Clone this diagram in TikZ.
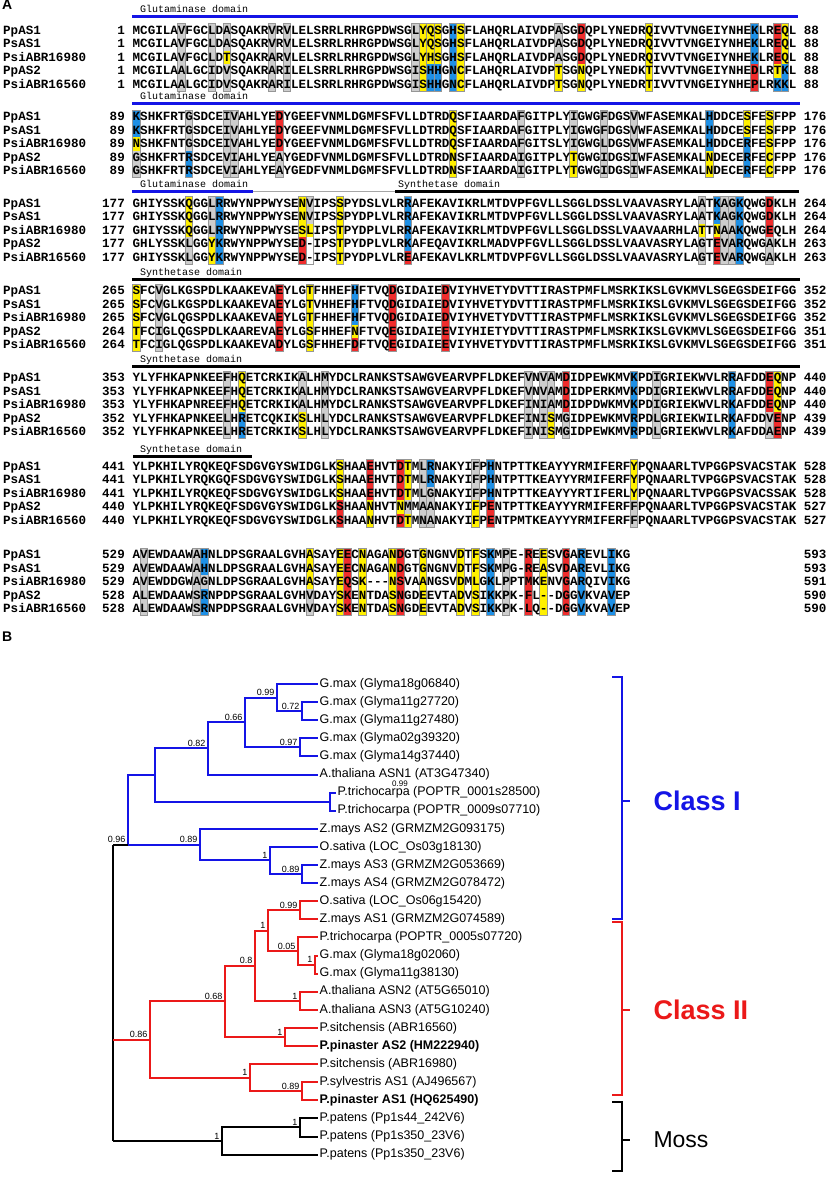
\documentclass[tikz,border=0pt]{standalone}
\usepackage{fontspec}
\setmainfont{Liberation Sans}
\setsansfont{Liberation Sans}
\setmonofont{Liberation Mono}
\definecolor{hY}{RGB}{255,240,0}
\definecolor{hB}{RGB}{30,144,230}
\definecolor{hR}{RGB}{240,45,45}
\definecolor{hG}{RGB}{205,205,205}
\definecolor{hW}{RGB}{255,255,255}
\definecolor{frameg}{RGB}{150,150,150}
\definecolor{domblue}{RGB}{20,20,230}
\definecolor{tblue}{RGB}{20,20,230}
\definecolor{tred}{RGB}{235,25,25}
\newcommand{\seqfont}{\ttfamily\bfseries\fontsize{12.57}{13}\selectfont}
\newcommand{\hcol}[3]{%
  \foreach \cc [count=\rr from 0] in {#3}{
    \fill[h\cc] ({132.5+(#2-1)*7.54},{#1-6.75+\rr*13.5}) rectangle ++(7.54,13.5);
  }
  \draw[frameg,line width=0.8] ({132.5+(#2-1)*7.54},{#1-6.75}) rectangle ++(7.54,67.5);
}
\newcommand{\arow}[6]{%
  \node[nm] (#1n) at (3,{#2+3.6}) {#3};
  \node[num] (#1s) at (125,{#2+3.6}) {#4};
  \node[sq] (#1q) at (132.5,{#2+3.6}) {#5};
  \node[sq] (#1e) at (803.6,{#2+3.6}) {#6};
}
\begin{document}
\begin{tikzpicture}[x=1pt,y=-1pt,
  sq/.style={anchor=base west, inner sep=0, font=\seqfont},
  num/.style={anchor=base east, inner sep=0, font=\seqfont},
  nm/.style={anchor=base west, inner sep=0, font=\seqfont},
  dom/.style={anchor=base west, inner sep=0, font=\ttfamily\fontsize{10}{10}\selectfont},
  panel/.style={anchor=north west, inner sep=0, font=\bfseries\fontsize{14}{14}\selectfont},
  leaf/.style={anchor=west, inner sep=1.5pt, font=\fontsize{12.5}{13}\selectfont},
  bleaf/.style={anchor=west, inner sep=1.5pt, font=\bfseries\fontsize{12.5}{13}\selectfont},
  supp/.style={anchor=south east, inner sep=0.5pt, font=\fontsize{9}{9}\selectfont},
  bl/.style={tblue, line width=2pt},
  rd/.style={tred, line width=2pt},
  bk/.style={black, line width=2pt},
  brk/.style={line width=2.5pt},
  domline/.style={line width=3pt}]
\useasboundingbox (0,0) rectangle (827,1180);
\fill[white] (0,0) rectangle (827,1180);
\node[panel] (pA) at (2,0) {A};
% ---------------- block 1
\hcol{30.5}{7}{G,G,G,G,G}
\hcol{30.5}{11}{G,G,G,G,G}
\hcol{30.5}{13}{G,G,Y,G,G}
\hcol{30.5}{19}{G,G,G,G,G}
\hcol{30.5}{21}{G,G,G,G,G}
\hcol{30.5}{38}{G,G,G,G,G}
\hcol{30.5}{39}{Y,Y,Y,Y,Y}
\hcol{30.5}{40}{Y,Y,Y,B,B}
\hcol{30.5}{41}{Y,Y,Y,B,B}
\hcol{30.5}{43}{B,B,B,B,B}
\hcol{30.5}{44}{Y,Y,Y,Y,Y}
\hcol{30.5}{57}{G,G,G,Y,Y}
\hcol{30.5}{60}{R,R,R,Y,Y}
\hcol{30.5}{69}{Y,Y,Y,Y,Y}
\hcol{30.5}{83}{B,B,B,R,R}
\hcol{30.5}{86}{R,R,R,Y,B}
\hcol{30.5}{87}{Y,Y,Y,B,B}
\draw[domblue,domline] (132,17) -- (798,17);
\node[dom] (d1) at (140,13) {Glutaminase domain};
\arow{a1}{30.5}{PpAS1}{1}{MCGILAVFGCLDASQAKRVRVLELSRRLRHRGPDWSGLYQSGHSFLAHQRLAIVDPASGDQPLYNEDRQIVVTVNGEIYNHEKLREQL}{88}
\arow{a2}{44}{PsAS1}{1}{MCGILAVFGCLDASQAKRVRVLELSRRLRHRGPDWSGLYQSGHSFLAHQRLAIVDPASGDQPLYNEDRQIVVTVNGEIYNHEKLREQL}{88}
\arow{a3}{57.5}{PsiABR16980}{1}{MCGILAVFGCLDTSQAKRARVLELSRRLRHRGPDWSGLYHSGHSFLAHQRLAIVDPASGDQPLYNEDRQIVVTVNGEIYNHEKLREQL}{88}
\arow{a4}{71}{PpAS2}{1}{MCGILAALGCIDVSQAKRARILELSRRLRHRGPDWSGISHHGNCFLAHQRLAIVDPTSGNQPLYNEDKTIVVTVNGEIYNHEDLRTKL}{88}
\arow{a5}{84.5}{PsiABR16560}{1}{MCGILAALGCIDVSQAKRARILELSRRLRHRGPDWSGISHHGNCFLAHQRLAIVDPTSGNQPLYNEDRTIVVTVNGEIYNHEPLRKKL}{88}
% ---------------- block 2
\hcol{117}{1}{B,B,Y,G,G}
\hcol{117}{8}{G,G,G,B,B}
\hcol{117}{13}{G,G,G,G,G}
\hcol{117}{14}{G,G,G,G,G}
\hcol{117}{20}{R,R,R,G,G}
\hcol{117}{43}{Y,Y,Y,Y,Y}
\hcol{117}{52}{G,G,G,G,G}
\hcol{117}{59}{G,G,G,Y,Y}
\hcol{117}{63}{G,G,G,G,G}
\hcol{117}{67}{G,G,G,G,G}
\hcol{117}{77}{B,B,B,Y,Y}
\hcol{117}{82}{Y,Y,B,B,B}
\hcol{117}{85}{Y,Y,Y,Y,Y}
\draw[domblue,domline] (132,103.5) -- (800,103.5);
\node[dom] (d2) at (140,100) {Glutaminase domain};
\arow{b1}{117}{PpAS1}{89}{KSHKFRTGSDCEIVAHLYEDYGEEFVNMLDGMFSFVLLDTRDQSFIAARDAFGITPLYIGWGFDGSVWFASEMKALHDDCESFESFPP}{176}
\arow{b2}{130.5}{PsAS1}{89}{KSHKFRTGSDCEIVAHLYEDYGEEFVNMLDGMFSFVLLDTRDQSFIAARDAFGITPLYIGWGFDGSVWFASEMKALHDDCESFESFPP}{176}
\arow{b3}{144}{PsiABR16980}{89}{NSHKFNTGSDCEIVAHLYEDYGEEFVNMLDGMFSFVLLDTRDQSFIAARDAFGITSLYIGWGLDGSVWFASEMKALHDDCERFESFPP}{176}
\arow{b4}{157.5}{PpAS2}{89}{GSHKFRTRSDCEVIAHLYEAYGEDFVNMLDGMFSFVLLDTRDNSFIAARDAIGITPLYTGWGIDGSIWFASEMKALNDECERFECFPP}{176}
\arow{b5}{171}{PsiABR16560}{89}{GSHKFRTRSDCEVIAHLYEAYGEDFVNMLDGMFSFVLLDTRDNSFIAARDAIGITPLYTGWGIDGSIWFASEMKALNDECERFECFPP}{176}
% ---------------- block 3
\hcol{203.5}{8}{Y,Y,Y,G,G}
\hcol{203.5}{11}{G,G,G,Y,Y}
\hcol{203.5}{12}{B,B,B,B,B}
\hcol{203.5}{23}{Y,Y,Y,R,R}
\hcol{203.5}{24}{G,G,Y,W,W}
\hcol{203.5}{28}{Y,Y,Y,Y,Y}
\hcol{203.5}{37}{B,B,B,B,R}
\hcol{203.5}{76}{G,G,Y,G,G}
\hcol{203.5}{78}{B,B,Y,R,R}
\hcol{203.5}{79}{G,G,G,G,G}
\hcol{203.5}{80}{G,G,G,G,G}
\hcol{203.5}{81}{B,B,B,B,B}
\hcol{203.5}{85}{R,R,R,G,G}
\draw[domblue,domline] (132,191) -- (253,191);
\draw[gray!70,line width=0.8] (253,191) -- (395,191);
\draw[black,domline] (395,191) -- (799,191);
\node[dom] (d3a) at (140,187) {Glutaminase domain};
\node[dom] (d3b) at (398,187) {Synthetase domain};
\arow{c1}{203.5}{PpAS1}{177}{GHIYSSKQGGLRRWYNPPWYSENVIPSSPYDSLVLRRAFEKAVIKRLMTDVPFGVLLSGGLDSSLVAAVASRYLAATKAGKQWGDKLH}{264}
\arow{c2}{217}{PsAS1}{177}{GHIYSSKQGGLRRWYNPPWYSENVIPSSPYDPLVLRRAFEKAVIKRLMTDVPFGVLLSGGLDSSLVAAVASRYLAATKAGKQWGDKLH}{264}
\arow{c3}{230.5}{PsiABR16980}{177}{GHIYSSKQGGLRRWYNPPWYSESLIPSTPYDPLVLRRAFEKAVIKRLMTDVPFGVLLSGGLDSSLVAAVAARHLATTNAAKQWGEQLH}{264}
\arow{c4}{244}{PpAS2}{177}{GHLYSSKLGGYKRWYNPPWYSED-IPSTPYDPLVLRKAFEQAVIKRLMADVPFGVLLSGGLDSSLVAAVASRYLAGTEVARQWGAKLH}{263}
\arow{c5}{257.5}{PsiABR16560}{177}{GHIYSSKLGGYKRWYNPPWYSED-IPSTPYDPLVLREAFEKAVLKRLMTDVPFGVLLSGGLDSSLVAAVASRYLAGTEVARQWGAKLH}{263}
% ---------------- block 4
\hcol{291}{1}{Y,Y,Y,Y,Y}
\hcol{291}{4}{G,G,G,G,G}
\hcol{291}{20}{R,R,R,R,R}
\hcol{291}{24}{Y,Y,Y,Y,Y}
\hcol{291}{30}{B,B,B,Y,R}
\hcol{291}{35}{R,R,R,R,R}
\hcol{291}{42}{R,R,R,R,R}
\draw[black,domline] (132,279.5) -- (800,279.5);
\node[dom] (d4) at (140,275) {Synthetase domain};
\arow{e1}{291}{PpAS1}{265}{SFCVGLKGSPDLKAAKEVAEYLGTFHHEFHFTVQDGIDAIEDVIYHVETYDVTTIRASTPMFLMSRKIKSLGVKMVLSGEGSDEIFGG}{352}
\arow{e2}{304.5}{PsAS1}{265}{SFCVGLKGSPDLKAAKEVAEYLGTVHHEFHFTVQDGIDAIEDVIYHVETYDVTTIRASTPMFLMSRKIKSLGVKMVLSGEGSDEIFGG}{352}
\arow{e3}{318}{PsiABR16980}{265}{SFCVGLQGSPDLKAAKEVAEYLGTFHHEFHFTVQDGIDAIEDVIYHVETYDVTTIRASTPMFLMSRKIKSLGVKMVLSGEGSDEIFGG}{352}
\arow{e4}{331.5}{PpAS2}{264}{TFCIGLQGSPDLKAAREVAEYLGSFHHEFNFTVQEGIDAIEEVIYHIETYDVTTIRASTPMFLMSRKIKSLGVKMVLSGEGSDEIFGG}{351}
\arow{e5}{345}{PsiABR16560}{264}{TFCIGLQGSPDLKAAKEVADYLGSFHHEFDFTVQEGIDAIEEVIYHVETYDVTTIRASTPMFLMSRKIKSLGVKMVLSGEGSDEIFGG}{351}
% ---------------- block 5
\hcol{378}{13}{G,G,G,G,G}
\hcol{378}{15}{Y,Y,Y,B,B}
\hcol{378}{23}{G,G,G,Y,Y}
\hcol{378}{26}{G,G,G,G,G}
\hcol{378}{53}{G,G,G,G,G}
\hcol{378}{55}{G,G,G,G,G}
\hcol{378}{56}{G,G,G,Y,Y}
\hcol{378}{58}{R,R,R,G,G}
\hcol{378}{67}{B,B,B,B,B}
\hcol{378}{70}{G,G,G,G,G}
\hcol{378}{80}{B,B,B,B,B}
\hcol{378}{85}{R,R,R,G,G}
\hcol{378}{86}{Y,Y,Y,R,R}
\draw[black,domline] (132,366) -- (800,366);
\node[dom] (d5) at (140,362) {Synthetase domain};
\arow{f1}{378}{PpAS1}{353}{YLYFHKAPNKEEFHQETCRKIKALHMYDCLRANKSTSAWGVEARVPFLDKEFVNVAMDIDPEWKMVKPDIGRIEKWVLRRAFDDEQNP}{440}
\arow{f2}{391.5}{PsAS1}{353}{YLYFHKAPNKEEFHQETCRKIKALHMYDCLRANKSTSAWGVEARVPFLDKEFVNVAMDIDPERKMVKPDIGRIEKWVLRRAFDDEQNP}{440}
\arow{f3}{405}{PsiABR16980}{353}{YLYFHKAPNREEFHQETCRKIKALHMYDCLRANKSTSAWGVEARVPFLDKEFINIAMDIDPDWKMVKPDIGRIEKWVLRKAFDDEQNP}{440}
\arow{f4}{418.5}{PpAS2}{352}{YLYFHKAPNKEELHRETCQKIKSLHLYDCLRANKSTSAWGVEARVPFLDKEFINISMGIDPEWKMVRPDLGRIEKWILRKAFDDVENP}{439}
\arow{f5}{432}{PsiABR16560}{352}{YLYFHKAPNKEELHRETCRKIKSLHLYDCLRANKSTSAWGVEARVPFLDKEFINISMGIDPEWKMVRPDLGRIEKWVLRKAFDDAENP}{439}
% ---------------- block 6
\hcol{466.5}{28}{Y,Y,Y,R,R}
\hcol{466.5}{32}{R,R,R,Y,Y}
\hcol{466.5}{36}{R,R,R,Y,R}
\hcol{466.5}{37}{Y,Y,Y,G,Y}
\hcol{466.5}{39}{G,G,G,G,G}
\hcol{466.5}{40}{B,B,G,G,G}
\hcol{466.5}{46}{G,G,G,Y,Y}
\hcol{466.5}{48}{B,B,B,R,R}
\hcol{466.5}{67}{Y,Y,Y,G,G}
\draw[black,domline] (133,456.5) -- (252,456.5);
\node[dom] (d6) at (140,452) {Synthetase domain};
\arow{g1}{466.5}{PpAS1}{441}{YLPKHILYRQKEQFSDGVGYSWIDGLKSHAAEHVTDTMLRNAKYIFPHNTPTTKEAYYYRMIFERFYPQNAARLTVPGGPSVACSTAK}{528}
\arow{g2}{480}{PsAS1}{441}{YLPKHILYRQKGQFSDGVGYSWIDGLKSHAAEHVTDTMLRNAKYIFPHNTPTTKEAYYYRMIFERFYPQNAARLTVPGGPSVACSTAK}{528}
\arow{g3}{493.5}{PsiABR16980}{441}{YLPKHILYRQKEQFSDGVGYSWIDGLKSHAAEHVTDTMLGNAKYIFPHNTPTTKEAYYYRTIFERLYPQNAARLTVPGGPSVACSSAK}{528}
\arow{g4}{507}{PpAS2}{440}{YLPKHILYRQKEQFSDGVGYSWIDGLKSHAANHVTNMMAANAKYIFPENTPTTKEAYYYRMIFERFFPQNAARLTVPGGPSVACSTAK}{527}
\arow{g5}{520.5}{PsiABR16560}{440}{YLPKHILYRQKEQFSDGVGYSWIDGLKSHAANHVTDTMNANAKYIFPENTPMTKEAYYYRMIFERFFPQNAARLTVPGGPSVACSTAK}{527}
% ---------------- block 7
\hcol{555}{2}{G,G,G,G,G}
\hcol{555}{9}{G,G,G,G,G}
\hcol{555}{10}{B,B,G,B,B}
\hcol{555}{24}{Y,Y,Y,G,G}
\hcol{555}{28}{Y,Y,Y,Y,Y}
\hcol{555}{29}{R,R,R,R,R}
\hcol{555}{31}{Y,Y,Y,Y,Y}
\hcol{555}{35}{Y,Y,Y,Y,Y}
\hcol{555}{36}{R,R,R,R,R}
\hcol{555}{39}{Y,Y,Y,Y,Y}
\hcol{555}{44}{Y,Y,Y,Y,Y}
\hcol{555}{46}{Y,Y,Y,Y,Y}
\hcol{555}{48}{B,B,B,B,B}
\hcol{555}{50}{G,G,G,G,G}
\hcol{555}{53}{R,R,R,R,R}
\hcol{555}{55}{Y,Y,Y,Y,Y}
\hcol{555}{58}{R,R,R,R,R}
\hcol{555}{60}{B,B,B,B,B}
\hcol{555}{64}{B,B,B,B,B}
\arow{h1}{555}{PpAS1}{529}{AVEWDAAWAHNLDPSGRAALGVHASAYEECNAGANDGTGNGNVDTFSKMPE-REESVGAREVLIKG}{593}
\arow{h2}{568.5}{PsAS1}{529}{AVEWDAAWAHNLDPSGRAALGVHASAYEECNAGANDGTGNGNVDTFSKMPG-REASVDAREVLIKG}{593}
\arow{h3}{582}{PsiABR16980}{529}{AVEWDDGWAGNLDPSGRAALGVHASAYEQSK---NSVAANGSVDMLGKLPPTMKENVGARQIVIKG}{591}
\arow{h4}{595.5}{PpAS2}{528}{ALEWDAAWSRNPDPSGRAALGVHVDAYSKENTDASNGDEEVTADVSIKKPK-FL--DGGVKVAVEP}{590}
\arow{h5}{609}{PsiABR16560}{528}{ALEWDAAWSRNPDPSGRAALGVHVDAYSKENTDASNGDEEVTADVSIKKPK-LQ--DGGVKVAVEP}{590}
% ================= TREE
\node[panel] (pB) at (2,632) {B};
\node[leaf] (L1) at (318,684.0) {G.max (Glyma18g06840)};
\node[leaf] (L2) at (318,702.1) {G.max (Glyma11g27720)};
\node[leaf] (L3) at (318,720.2) {G.max (Glyma11g27480)};
\node[leaf] (L4) at (318,738.3) {G.max (Glyma02g39320)};
\node[leaf] (L5) at (318,756.4) {G.max (Glyma14g37440)};
\node[leaf] (L6) at (318,774.5) {A.thaliana ASN1 (AT3G47340)};
\node[leaf] (L7) at (336,792.6) {P.trichocarpa (POPTR\_0001s28500)};
\node[leaf] (L8) at (336,810.7) {P.trichocarpa (POPTR\_0009s07710)};
\node[leaf] (L9) at (318,828.8) {Z.mays AS2 (GRMZM2G093175)};
\node[leaf] (L10) at (318,846.9) {O.sativa (LOC\_Os03g18130)};
\node[leaf] (L11) at (318,865.0) {Z.mays AS3 (GRMZM2G053669)};
\node[leaf] (L12) at (318,883.1) {Z.mays AS4 (GRMZM2G078472)};
\node[leaf] (L13) at (318,901.2) {O.sativa (LOC\_Os06g15420)};
\node[leaf] (L14) at (318,919.3) {Z.mays AS1 (GRMZM2G074589)};
\node[leaf] (L15) at (318,937.4) {P.trichocarpa (POPTR\_0005s07720)};
\node[leaf] (L16) at (318,955.5) {G.max (Glyma18g02060)};
\node[leaf] (L17) at (318,973.6) {G.max (Glyma11g38130)};
\node[leaf] (L18) at (318,991.7) {A.thaliana ASN2 (AT5G65010)};
\node[leaf] (L19) at (318,1009.8) {A.thaliana ASN3 (AT5G10240)};
\node[leaf] (L20) at (318,1027.9) {P.sitchensis (ABR16560)};
\node[bleaf] (L21) at (318,1046.0) {P.pinaster AS2 (HM222940)};
\node[leaf] (L22) at (318,1064.1) {P.sitchensis (ABR16980)};
\node[leaf] (L23) at (318,1082.2) {P.sylvestris AS1 (AJ496567)};
\node[bleaf] (L24) at (318,1100.3) {P.pinaster AS1 (HQ625490)};
\node[leaf] (L25) at (318,1118.4) {P.patens (Pp1s44\_242V6)};
\node[leaf] (L26) at (318,1136.5) {P.patens (Pp1s350\_23V6)};
\node[leaf] (L27) at (318,1154.6) {P.patens (Pp1s350\_23V6)};
% internal nodes
\coordinate (n23) at (302,711.15);
\coordinate (nA) at (277,697.58);
\coordinate (n45) at (300,747.35);
\coordinate (nB) at (245,722.46);
\coordinate (nC) at (208,748.48);
\coordinate (n78) at (330,801.65);
\coordinate (nD) at (155,775.07);
\coordinate (n1112) at (302,874.05);
\coordinate (n10) at (270,860.48);
\coordinate (n9) at (200,844.64);
\coordinate (nBl) at (128,844.64);
\coordinate (n1314) at (300,910.25);
\coordinate (n1617) at (315,964.55);
\coordinate (n15) at (298,950.98);
\coordinate (nE) at (268,930.61);
\coordinate (n1819) at (300,1000.75);
\coordinate (nF) at (255,965.68);
\coordinate (n2021) at (285,1036.95);
\coordinate (nG) at (225,1001.32);
\coordinate (n2324) at (302,1091.25);
\coordinate (nH) at (250,1077.68);
\coordinate (nRd) at (150,1039.5);
\coordinate (n2526) at (300,1127.45);
\coordinate (nMo) at (222,1141.03);
\coordinate (rootT) at (113,844.64);
\coordinate (rootM) at (113,1039.5);
\coordinate (rootB) at (113,1141.03);
% blue clade
\draw[bl] (n23) |- (L2.west); \draw[bl] (n23) |- (L3.west);
\draw[bl] (nA) |- (L1.west); \draw[bl] (nA) |- (n23);
\draw[bl] (n45) |- (L4.west); \draw[bl] (n45) |- (L5.west);
\draw[bl] (nB) |- (nA); \draw[bl] (nB) |- (n45);
\draw[bl] (nC) |- (nB); \draw[bl] (nC) |- (L6.west);
\draw[bl] (n78) |- (L7.west); \draw[bl] (n78) |- (L8.west);
\draw[bl] (nD) |- (nC); \draw[bl] (nD) |- (n78);
\draw[bl] (n1112) |- (L11.west); \draw[bl] (n1112) |- (L12.west);
\draw[bl] (n10) |- (L10.west); \draw[bl] (n10) |- (n1112);
\draw[bl] (n9) |- (L9.west); \draw[bl] (n9) |- (n10);
\draw[bl] (nBl) |- (nD); \draw[bl] (nBl) -- (n9);
% red clade
\draw[rd] (n1314) |- (L13.west); \draw[rd] (n1314) |- (L14.west);
\draw[rd] (n1617) |- (L16.west); \draw[rd] (n1617) |- (L17.west);
\draw[rd] (n15) |- (L15.west); \draw[rd] (n15) |- (n1617);
\draw[rd] (nE) |- (n1314); \draw[rd] (nE) |- (n15);
\draw[rd] (n1819) |- (L18.west); \draw[rd] (n1819) |- (L19.west);
\draw[rd] (nF) |- (nE); \draw[rd] (nF) |- (n1819);
\draw[rd] (n2021) |- (L20.west); \draw[rd] (n2021) |- (L21.west);
\draw[rd] (nG) |- (nF); \draw[rd] (nG) |- (n2021);
\draw[rd] (n2324) |- (L23.west); \draw[rd] (n2324) |- (L24.west);
\draw[rd] (nH) |- (L22.west); \draw[rd] (nH) |- (n2324);
\draw[rd] (nRd) |- (nG); \draw[rd] (nRd) |- (nH);
% moss
\draw[bk] (n2526) |- (L25.west); \draw[bk] (n2526) |- (L26.west);
\draw[bk] (nMo) |- (n2526); \draw[bk] (nMo) |- (L27.west);
% root
\draw[bk] (rootT) -- (rootB);
\draw[bk] (rootT) -- (nBl);
\draw[rd] (rootM) -- (nRd);
\draw[bk] (rootB) -- (nMo);
% supports
\node[supp] (s1) at (300,710) {0.72};
\node[supp] (s2) at (275,696.5) {0.99};
\node[supp] (s3) at (298,746.3) {0.97};
\node[supp] (s4) at (243,721.4) {0.66};
\node[supp] (s5) at (206,747.4) {0.82};
\node[supp,anchor=center,font=\fontsize{8}{8}\selectfont] (s6) at (400,784.2) {0.99};
\node[supp] (s7) at (126,843.6) {0.96};
\node[supp] (s8) at (198,843.6) {0.89};
\node[supp] (s9) at (268,859.4) {1};
\node[supp] (s10) at (300,873) {0.89};
\node[supp] (s11) at (298,909.2) {0.99};
\node[supp] (s12) at (313,963.5) {1};
\node[supp] (s13) at (296,949.9) {0.05};
\node[supp] (s14) at (266,929.6) {1};
\node[supp] (s15) at (298,999.7) {1};
\node[supp] (s16) at (253,964.6) {0.8};
\node[supp] (s17) at (283,1035.9) {1};
\node[supp] (s18) at (223,1000.3) {0.68};
\node[supp] (s19) at (300,1090.2) {0.89};
\node[supp] (s20) at (248,1076.6) {1};
\node[supp] (s21) at (148,1038.5) {0.86};
\node[supp] (s22) at (298,1126.4) {1};
\node[supp] (s23) at (220,1140) {1};
% brackets
\draw[tblue,brk] (612,677) -- (622,677) -- (622,919) -- (612,919);
\draw[tblue,brk] (622,801) -- (630,801);
\draw[tred,brk] (612,922) -- (622,922) -- (622,1095) -- (612,1095);
\draw[tred,brk] (622,1010) -- (630,1010);
\draw[black,brk] (612,1102) -- (622,1102) -- (622,1171) -- (612,1171);
\draw[black,brk] (622,1140) -- (630,1140);
\node[anchor=west,tblue,font=\bfseries\fontsize{27}{27}\selectfont] (c1) at (650,801) {Class I};
\node[anchor=west,tred,font=\bfseries\fontsize{27}{27}\selectfont] (c2) at (650,1010) {Class II};
\node[anchor=west,font=\fontsize{23}{23}\selectfont] (c3) at (650,1140) {Moss};
\end{tikzpicture}
\end{document}
